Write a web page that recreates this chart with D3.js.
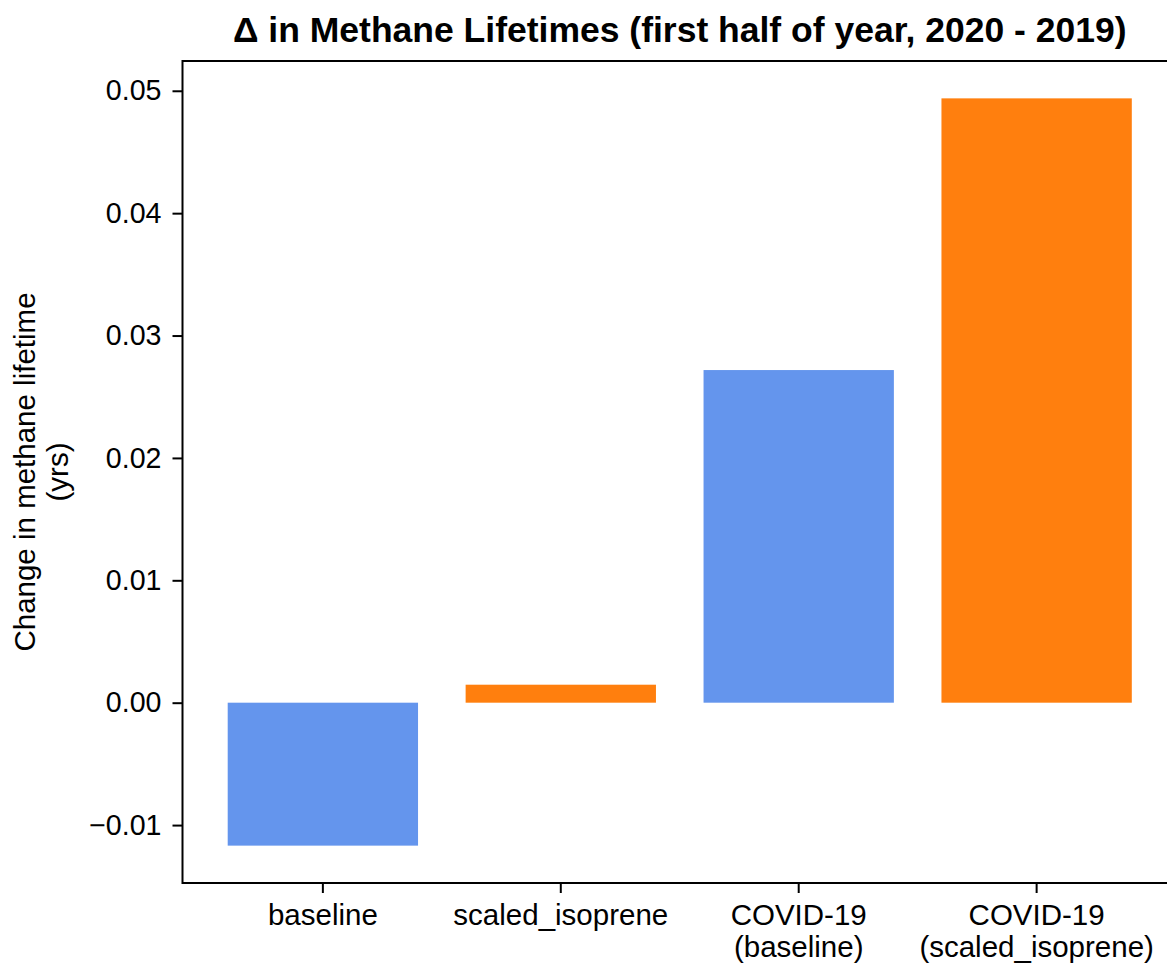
<!DOCTYPE html>
<html>
<head>
<meta charset="utf-8">
<script src="https://cdn.jsdelivr.net/npm/d3@7"></script>
<style>
  html, body { margin: 0; padding: 0; background: #fff; }
  svg { display: block; overflow: hidden; }
  text { font-family: "Liberation Sans", Arial, sans-serif; fill: #000; }
</style>
</head>
<body>
<svg id="chart" width="1167" height="964"></svg>
<script>
// Change in methane lifetime per run (years)
const categories = [
  ["baseline"],
  ["scaled_isoprene"],
  ["COVID-19", "(baseline)"],
  ["COVID-19", "(scaled_isoprene)"]
];
const values = [-0.01168, 0.00147, 0.02718, 0.04938];
const barColors = ["#6495ED", "#FF7F0E", "#6495ED", "#FF7F0E"];
const yTicks = [-0.01, 0.00, 0.01, 0.02, 0.03, 0.04, 0.05];

const svg = d3.select("#chart");
const plot = { left: 182.5, right: 1177, top: 61, bottom: 883 };

const keys = categories.map(c => c.join(" "));
const x = d3.scaleBand()
  .domain(keys)
  .range([plot.left, plot.right])
  .paddingInner(0.2)
  .paddingOuter(0.19);

// y-limits padded by 5% of the data span
const lo = Math.min(0, d3.min(values)), hi = Math.max(0, d3.max(values));
const pad = (hi - lo) * 0.05;
const y = d3.scaleLinear()
  .domain([lo - pad, hi + pad])
  .range([plot.bottom, plot.top]);

// bars
svg.append("g")
  .selectAll("rect")
  .data(values)
  .join("rect")
  .attr("x", (d, i) => x(keys[i]))
  .attr("width", x.bandwidth())
  .attr("y", d => y(Math.max(0, d)))
  .attr("height", d => Math.abs(y(d) - y(0)))
  .attr("fill", (d, i) => barColors[i]);

// y axis
const yAxis = svg.append("g")
  .attr("transform", `translate(${plot.left},0)`)
  .call(d3.axisLeft(y).tickValues(yTicks).tickSize(10).tickPadding(11)
    .tickFormat(d => d3.format(".2f")(d).replace("-", "\u2212")));
yAxis.select(".domain").remove();
yAxis.selectAll(".tick line").attr("stroke", "#000").attr("stroke-width", 2);
yAxis.selectAll(".tick text").attr("font-size", 28.6);

// x axis
const xAxis = svg.append("g")
  .attr("transform", `translate(0,${plot.bottom})`)
  .call(d3.axisBottom(x).tickSize(10).tickPadding(8).tickFormat(""));
xAxis.select(".domain").remove();
xAxis.selectAll(".tick line").attr("stroke", "#000").attr("stroke-width", 2);
xAxis.selectAll(".tick").each(function(d, i) {
  const t = d3.select(this).append("text")
    .attr("text-anchor", "middle")
    .attr("font-size", 29.5);
  categories[i].forEach((line, j) => {
    t.append("tspan").attr("x", 0).attr("y", 42 + j * 32).text(line);
  });
});

// frame
svg.append("rect")
  .attr("x", plot.left).attr("y", plot.top)
  .attr("width", plot.right - plot.left).attr("height", plot.bottom - plot.top)
  .attr("fill", "none").attr("stroke", "#000").attr("stroke-width", 2);

// y label
const cy = (plot.top + plot.bottom) / 2;
const yl = svg.append("text")
  .attr("transform", `translate(0,${cy}) rotate(-90)`)
  .attr("text-anchor", "middle")
  .attr("font-size", 29.5);
yl.append("tspan").attr("x", 0).attr("y", 35).text("Change in methane lifetime");
yl.append("tspan").attr("x", 0).attr("y", 68).text("(yrs)");

// title
svg.append("text")
  .attr("x", (plot.left + plot.right) / 2)
  .attr("y", 42)
  .attr("text-anchor", "middle")
  .attr("font-size", 35.5)
  .attr("font-weight", "bold")
  .text("\u0394 in Methane Lifetimes (first half of year, 2020 - 2019)");
</script>
</body>
</html>
